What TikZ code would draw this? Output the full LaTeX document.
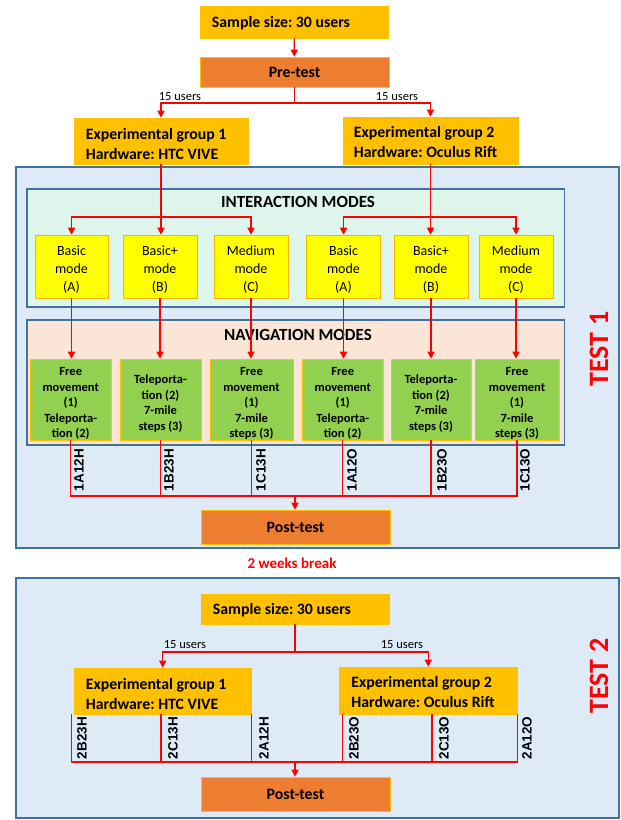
\documentclass[tikz,border=0pt]{standalone}
\usepackage{fontspec}
\setmainfont{Carlito}
\newfontfamily\codefont{Liberation Sans}
\usetikzlibrary{arrows.meta,calc}
\definecolor{gold}{HTML}{FFC000}
\definecolor{orng}{HTML}{ED7D31}
\definecolor{yel}{HTML}{FFFF00}
\definecolor{grn}{HTML}{92D050}
\definecolor{lblue}{HTML}{DEEBF7}
\definecolor{bborder}{HTML}{41719C}
\definecolor{mint}{HTML}{DDF5EA}
\definecolor{peach}{HTML}{FBE5D6}
\definecolor{modeborder}{HTML}{F5B800}
\frenchspacing
\tikzset{
  conn/.style={draw=red, line width=1.3pt},
  arr/.style={conn, -{Triangle[length=7pt,width=7pt]}},
  goldbox/.style={draw=gold, fill=gold, line width=0.6pt, inner sep=0pt},
  goldtxt/.style={font=\bfseries\fontsize{15.8}{20}\selectfont, inner sep=0pt, align=left, anchor=west},
  orangebox/.style={draw=gold, fill=orng, line width=0.6pt, font=\bfseries\fontsize{15.8}{20}\selectfont, inner sep=0pt, align=center, minimum width=189pt, minimum height=32pt},
  modebox/.style={draw=modeborder, fill=yel, line width=0.6pt, inner sep=0pt, minimum width=74pt, minimum height=63pt},
  modetxt/.style={font=\fontsize{14}{18}\selectfont, inner sep=0pt, align=center},
  navbox/.style={draw=gold, fill=grn, line width=0.6pt, inner sep=0pt, minimum height=81pt},
  navtxt/.style={font=\bfseries\fontsize{12.5}{15.5}\selectfont, inner sep=0pt, align=center},
  panel/.style={draw=bborder, line width=1.3pt},
  outer/.style={draw=bborder, fill=lblue, line width=1.5pt},
  title/.style={font=\bfseries\fontsize{17}{20}\selectfont, inner sep=0pt},
  users/.style={font=\fontsize{12.5}{14}\selectfont, inner sep=0pt},
  code/.style={font=\codefont\bfseries\fontsize{13.5}{15}\selectfont, rotate=90, inner sep=0pt},
  testlbl/.style={font=\bfseries\fontsize{28}{30}\selectfont, text=red, rotate=90, inner sep=0pt}
}
\begin{document}
\begin{tikzpicture}[x=1pt,y=-1pt]
\useasboundingbox (0,0) rectangle (621,820);
% ---------- TEST 1 ----------
\draw[outer] (16,167) rectangle (619,548);
\draw[panel, fill=mint] (27,189) rectangle (564.5,307);
\draw[panel, fill=peach] (27,320) rectangle (564.5,445);
\node[title] (it) at (298,202) {INTERACTION MODES};
\node[title] (nt) at (298,335) {NAVIGATION MODES};
\node[testlbl] (t1) at (599,349) {TEST 1};

\node[goldbox, minimum width=188pt, minimum height=32pt] (s1) at (294,22) {};
\node[goldtxt] (s1t) at ([xshift=12pt,yshift=-1pt]s1.west) {Sample size: 30 users};
\node[orangebox, minimum height=30pt] (pre) at (294.5,72) {Pre-test};
\node[goldbox, minimum width=174pt, minimum height=46pt] (g1) at (161,141) {};
\node[goldtxt] (g1t) at ([xshift=12pt,yshift=-3.5pt]g1.west) {Experimental group 1\\Hardware: HTC VIVE};
\node[goldbox, minimum width=175pt, minimum height=47pt] (g2) at (430.5,140.5) {};
\node[goldtxt] (g2t) at ([xshift=11pt,yshift=-2pt]g2.west) {Experimental group 2\\Hardware: Oculus Rift};
\node[users] (u1) at (180,97) {15 users};
\node[users] (u2) at (397,97) {15 users};

\node[modebox, minimum width=73pt] (a1) at (71.5,266.5) {};
\node[modebox] (b1) at (160,266.5) {};
\node[modebox] (c1) at (251,266.5) {};
\node[modebox] (a2) at (343.5,266.5) {};
\node[modebox] (b2) at (431,266.5) {};
\node[modebox] (c2) at (516,266.5) {};
\node[modetxt] (a1t) at ([yshift=-3.5pt]a1.center) {Basic\\mode\\(A)};
\node[modetxt] (b1t) at ([yshift=-3.5pt]b1.center) {Basic+\\mode\\(B)};
\node[modetxt] (c1t) at ([yshift=-3.5pt]c1.center) {Medium\\mode\\(C)};
\node[modetxt] (a2t) at ([yshift=-3.5pt]a2.center) {Basic\\mode\\(A)};
\node[modetxt] (b2t) at ([yshift=-3.5pt]b2.center) {Basic+\\mode\\(B)};
\node[modetxt] (c2t) at ([yshift=-3.5pt]c2.center) {Medium\\mode\\(C)};

\node[navbox, minimum width=81.5pt] (n1) at (70.75,399.5) {};
\node[navbox, minimum width=81pt] (n2) at (160.5,399.5) {};
\node[navbox, minimum width=83pt] (n3) at (251.5,399.5) {};
\node[navbox, minimum width=80.5pt] (n4) at (342.75,399.5) {};
\node[navbox, minimum width=80pt] (n5) at (431,399.5) {};
\node[navbox, minimum width=84pt] (n6) at (517,399.5) {};
\node[navtxt] (n1t) at ([yshift=-4pt]n1.center) {Free\\movement\\(1)\\Teleporta-\\tion (2)};
\node[navtxt] (n2t) at ([yshift=-4pt]n2.center) {Teleporta-\\tion (2)\\7-mile\\steps (3)};
\node[navtxt] (n3t) at ([yshift=-4pt]n3.center) {Free\\movement\\(1)\\7-mile\\steps (3)};
\node[navtxt] (n4t) at ([yshift=-4pt]n4.center) {Free\\movement\\(1)\\Teleporta-\\tion (2)};
\node[navtxt] (n5t) at ([yshift=-4pt]n5.center) {Teleporta-\\tion (2)\\7-mile\\steps (3)};
\node[navtxt] (n6t) at ([yshift=-4pt]n6.center) {Free\\movement\\(1)\\7-mile\\steps (3)};

\node[orangebox, minimum height=34pt] (post1) at (295.5,527) {Post-test};
\node[font=\bfseries\fontsize{15}{17}\selectfont, text=red, inner sep=0pt] (brk) at (292,563) {2 weeks break};

% connectors test 1
\draw[arr] (s1) -- (pre);
\coordinate (pb) at (294.5,103);
\draw[conn] (pre.south) -- (pb);
\draw[arr] (pb) -| (g1.north);
\draw[arr] (pb) -| (g2.north);

\coordinate (j1) at (161,217);
\coordinate (j2) at (431,217);
\draw[arr] (g1.south) -- (g1.south |- b1.north);
\draw[arr] (j1) -| (a1.north);
\draw[arr] (j1) -| (c1.north);
\draw[arr] (g2.south) -- (g2.south |- b2.north);
\draw[arr] (j2) -| (a2.north);
\draw[arr] (j2) -| (c2.north);

\foreach \m/\n in {a1/n1,b1/n2,c1/n3,a2/n4,b2/n5,c2/n6}
  \draw[arr] (\m.south) -- (\m.south |- \n.north);

\coordinate (h1) at (295,496);
\foreach \n in {n1,n2,n3,n4,n5,n6}
  \draw[conn] (\n.south) |- (h1);
\draw[arr] (h1) -- (h1 |- post1.north);

\node[code] (k1) at (79,470) {1A12H};
\node[code] (k2) at (169,470) {1B23H};
\node[code] (k3) at (261,470) {1C13H};
\node[code] (k4) at (352,470) {1A12O};
\node[code] (k5) at (442,470) {1B23O};
\node[code] (k6) at (525,470) {1C13O};

% ---------- TEST 2 ----------
\draw[outer] (16,578) rectangle (619,818);
\node[testlbl] (t2) at (599,676) {TEST 2};
\node[goldbox, minimum width=188pt, minimum height=30pt] (s2) at (295,609) {};
\node[goldtxt] (s2t) at ([xshift=12pt,yshift=-1pt]s2.west) {Sample size: 30 users};
\node[goldbox, minimum width=177.5pt, minimum height=46pt] (g1b) at (162.75,691) {};
\node[goldtxt] (g1bt) at ([xshift=12pt,yshift=-3pt]g1b.west) {Experimental group 1\\Hardware: HTC VIVE};
\node[goldbox, minimum width=177.5pt, minimum height=47pt] (g2b) at (428.25,690.5) {};
\node[goldtxt] (g2bt) at ([xshift=12pt,yshift=-2pt]g2b.west) {Experimental group 2\\Hardware: Oculus Rift};
\node[users] (u3) at (185,645) {15 users};
\node[users] (u4) at (402,645) {15 users};
\node[orangebox, minimum height=34pt] (post2) at (295.5,794) {Post-test};

\coordinate (pb2) at (295,652);
\draw[conn] (s2.south) -- (pb2);
\draw[arr] (pb2) -| (g1b.north);
\draw[arr] (pb2) -| (g2b.north);

\coordinate (h2) at (295,762);
\draw[conn] ([xshift=-2pt]g1b.south west) |- (h2);
\draw[conn] ([xshift=-1.75pt]g1b.south) |- (h2);
\draw[conn] (g1b.south east) |- (h2);
\draw[conn] ([xshift=3.5pt]g2b.south west) |- (h2);
\draw[conn] ([xshift=3.75pt]g2b.south) |- (h2);
\draw[conn] (g2b.south east) |- (h2);
\draw[arr] (h2) -- (h2 |- post2.north);

\node[code] (m1) at (82,738) {2B23H};
\node[code] (m2) at (173,738) {2C13H};
\node[code] (m3) at (264,738) {2A12H};
\node[code] (m4) at (354,738) {2B23O};
\node[code] (m5) at (444,738) {2C13O};
\node[code] (m6) at (527,738) {2A12O};
\end{tikzpicture}
\end{document}
